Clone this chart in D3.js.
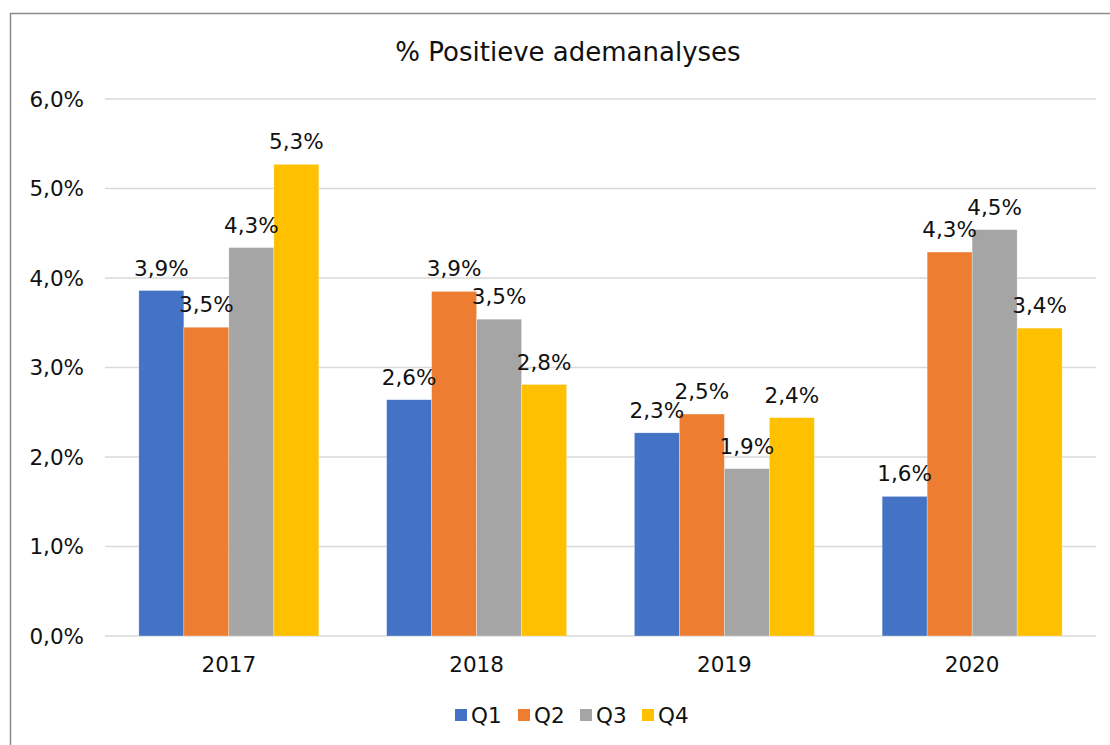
<!DOCTYPE html>
<html>
<head>
<meta charset="utf-8">
<script src="https://cdn.jsdelivr.net/npm/d3@7"></script>
<style>
	body { margin: 0; background: #fff; }
	svg { font-family: "DejaVu Sans", Verdana, sans-serif; }
</style>
</head>
<body>
<svg id="chart" width="1110" height="745"></svg>
<script>
// data
var years = ["2017", "2018", "2019", "2020"];
var quarters = ["Q1", "Q2", "Q3", "Q4"];
var q1 = [3.86, 2.64, 2.27, 1.56];
var q2 = [3.45, 3.85, 2.48, 4.29];
var q3 = [4.34, 3.54, 1.87, 4.54];
var q4 = [5.27, 2.81, 2.44, 3.44];
var yTicks = [0, 1, 2, 3, 4, 5, 6];
var colors = ["#4472C4", "#ED7D31", "#A5A5A5", "#FFC000"];

var series = [q1, q2, q3, q4];

function draw() {
	var svg = d3.select("#chart");
	var plotLeft = 105, plotRight = 1096, plotTop = 99, plotBottom = 636;
	var fs = 21.5;

	// chart border (only left and top visible in the picture)
	svg.append("rect")
		.attr("x", 10.5).attr("y", 13.5)
		.attr("width", 1200).attr("height", 800)
		.attr("fill", "none").attr("stroke", "#8c8c8c").attr("stroke-width", 1.5);

	svg.append("text")
		.attr("x", 568).attr("y", 61)
		.attr("text-anchor", "middle")
		.attr("font-size", 26).attr("fill", "#111")
		.text("% Positieve ademanalyses");

	var x0 = d3.scaleBand().domain(years).range([plotLeft, plotRight])
		.paddingInner(0.2735).paddingOuter(0.13675);
	var x1 = d3.scaleBand().domain(quarters).range([0, x0.bandwidth()]);
	var y = d3.scaleLinear().domain([0, 6]).range([plotBottom, plotTop]);

	var fmt = v => d3.format(".1f")(v).replace(".", ",") + "%";

	// gridlines
	svg.append("g").selectAll("line").data(yTicks).join("line")
		.attr("x1", plotLeft).attr("x2", plotRight)
		.attr("y1", d => y(d)).attr("y2", d => y(d))
		.attr("stroke", "#d9d9d9").attr("stroke-width", 1.5);

	// y axis labels
	svg.append("g").selectAll("text").data(yTicks).join("text")
		.attr("x", 84).attr("y", d => y(d) + 7.5)
		.attr("text-anchor", "end")
		.attr("font-size", fs).attr("fill", "#111")
		.text(d => d.toFixed(1).replace(".", ",") + "%");

	// x axis labels
	svg.append("g").selectAll("text").data(years).join("text")
		.attr("x", d => x0(d) + x0.bandwidth() / 2).attr("y", 672)
		.attr("text-anchor", "middle")
		.attr("font-size", fs).attr("fill", "#111")
		.text(d => d);

	// bars
	var groups = svg.append("g").selectAll("g").data(years).join("g")
		.attr("transform", d => "translate(" + x0(d) + ",0)");

	var cells = (yr, i) => quarters.map((q, j) => ({q: q, j: j, v: series[j][i]}));

	groups.selectAll("rect").data(cells).join("rect")
		.attr("x", d => x1(d.q)).attr("width", x1.bandwidth())
		.attr("y", d => y(d.v)).attr("height", d => plotBottom - y(d.v))
		.attr("fill", d => colors[d.j])
		.attr("stroke", "#fff").attr("stroke-width", 0.5).attr("stroke-opacity", 0.6);

	groups.selectAll("text").data(cells).join("text")
		.attr("x", d => x1(d.q) + x1.bandwidth() / 2)
		.attr("y", d => y(d.v) - 15)
		.attr("text-anchor", "middle")
		.attr("font-size", fs).attr("fill", "#111")
		.text(d => fmt(d.v));

	// legend
	var legendX = [455, 518, 580, 642];
	var legend = svg.append("g").selectAll("g").data(quarters).join("g")
		.attr("transform", (d, i) => "translate(" + legendX[i] + ",709)");
	legend.append("rect")
		.attr("width", 12).attr("height", 12)
		.attr("fill", (d, i) => colors[i]);
	legend.append("text")
		.attr("x", 16).attr("y", 14)
		.attr("font-size", fs).attr("fill", "#111")
		.text(d => d);
}

draw();
</script>
</body>
</html>
